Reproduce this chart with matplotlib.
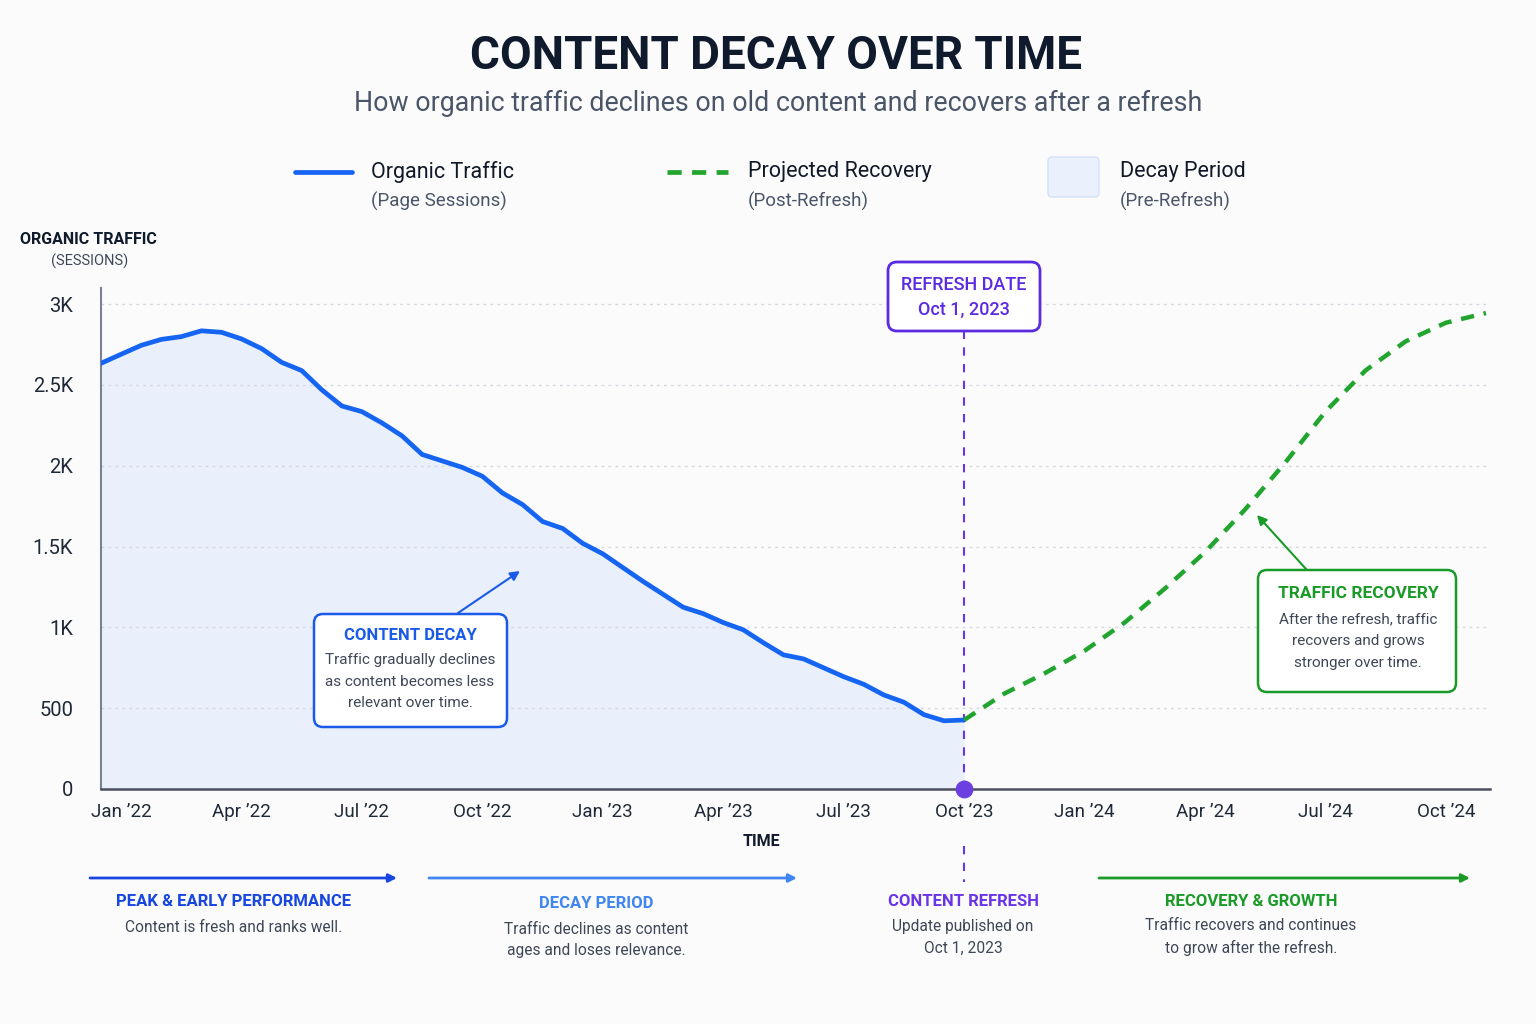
import numpy as np
import matplotlib
matplotlib.use("Agg")
import matplotlib.pyplot as plt
import matplotlib.transforms as mtransforms
from matplotlib import font_manager
from matplotlib.patches import FancyBboxPatch, FancyArrowPatch
from matplotlib.lines import Line2D

# =============================================================================
# DATA
# =============================================================================

# months since Jan 2022 (half-month steps)
DECAY_MONTHS = [-0.5, 0.0, 0.5, 1.0, 1.5, 2.0, 2.5, 3.0, 3.5, 4.0, 4.5, 5.0,
                5.5, 6.0, 6.5, 7.0, 7.5, 8.0, 8.5, 9.0, 9.5, 10.0, 10.5, 11.0,
                11.5, 12.0, 12.5, 13.0, 13.5, 14.0, 14.5, 15.0, 15.5, 16.0,
                16.5, 17.0, 17.5, 18.0, 18.5, 19.0, 19.5, 20.0, 20.5, 21.0]
DECAY_SESSIONS = [2634, 2690, 2745, 2782, 2799, 2835, 2826, 2785, 2725, 2640,
                  2589, 2470, 2370, 2335, 2265, 2185, 2070, 2030, 1990, 1935,
                  1832, 1760, 1655, 1612, 1520, 1455, 1370, 1285, 1205, 1125,
                  1085, 1030, 985, 905, 830, 805, 750, 695, 648, 582, 537,
                  460, 422, 427]

RECOVERY_MONTHS = [21, 22, 23, 24, 25, 26, 27, 28, 29, 30, 31, 32, 33, 34]
RECOVERY_SESSIONS = [427, 590, 715, 855, 1030, 1240, 1465, 1730, 2020, 2335,
                     2590, 2770, 2885, 2945]

REFRESH_MONTH = 21

X_TICKS = [0, 3, 6, 9, 12, 15, 18, 21, 24, 27, 30, 33]
X_LABELS = ["Jan \u201922", "Apr \u201922", "Jul \u201922", "Oct \u201922",
            "Jan \u201923", "Apr \u201923", "Jul \u201923", "Oct \u201923",
            "Jan \u201924", "Apr \u201924", "Jul \u201924", "Oct \u201924"]
Y_TICKS = [0, 500, 1000, 1500, 2000, 2500, 3000]
Y_LABELS = ["0", "500", "1K", "1.5K", "2K", "2.5K", "3K"]

# =============================================================================
# STYLE
# =============================================================================

W, H, DPI = 1536, 1024, 100
BG = "#fbfbfc"
NAVY = "#0f1b2d"
GREY = "#3f4756"
BLUE = "#1565f2"
BLUE_DARK = "#1746e0"
BLUE_LIGHT = "#3f86f0"
GREEN = "#22a52f"
PURPLE = "#5b2be0"

names = {f.name for f in font_manager.fontManager.ttflist}
FONT = "Liberation Sans Narrow" if "Liberation Sans Narrow" in names else "Roboto"
plt.rcParams["font.family"] = [FONT, "DejaVu Sans"]

fig = plt.figure(figsize=(W / DPI, H / DPI), dpi=DPI, facecolor=BG)
# pixel coordinates, origin top-left
PXT = mtransforms.Affine2D().scale(1 / W, -1 / H).translate(0, 1) + fig.transFigure


def ftext(x, y, s, size, color=GREY, weight="normal", ha="center"):
    fig.text(x, y, s, transform=PXT, fontsize=size, color=color,
             fontweight=weight, ha=ha, va="center", zorder=10)


def fbox(x0, y0, x1, y1, edge, lw=1.8):
    fig.add_artist(FancyBboxPatch((x0, y0), x1 - x0, y1 - y0,
                                  boxstyle="round,pad=0,rounding_size=9",
                                  transform=PXT, fc="white", ec=edge, lw=lw,
                                  zorder=5))


def farrow(p0, p1, color, lw=1.5, ms=14):
    fig.add_artist(FancyArrowPatch(p0, p1, transform=PXT, arrowstyle="-|>",
                                   mutation_scale=ms, color=color, lw=lw,
                                   shrinkA=0, shrinkB=0, zorder=6))


# ---- title ------------------------------------------------------------------
ftext(776, 56, "CONTENT DECAY OVER TIME", 33, NAVY, "bold")
ftext(778, 103, "How organic traffic declines on old content and recovers after a refresh",
      19.3, "#4a5568")

# ---- legend -----------------------------------------------------------------
fig.add_artist(Line2D([295, 352], [172, 172], transform=PXT, color=BLUE, lw=3.4,
                      solid_capstyle="round"))
ftext(371, 172, "Organic Traffic", 15.5, "#111827", ha="left")
ftext(371, 201, "(Page Sessions)", 13.5, "#4a5568", ha="left")
fig.add_artist(Line2D([667, 728], [172, 172], transform=PXT, color=GREEN, lw=3.4,
                      ls=(0, (3, 2.2))))
ftext(748, 172, "Projected Recovery", 15.5, "#111827", ha="left")
ftext(748, 201, "(Post-Refresh)", 13.5, "#4a5568", ha="left")
fig.add_artist(FancyBboxPatch((1048, 157), 51, 40,
                              boxstyle="round,pad=0,rounding_size=4",
                              transform=PXT, fc="#eaf1fd", ec="#d3e2fa", lw=1))
ftext(1120, 172, "Decay Period", 15.5, "#111827", ha="left")
ftext(1120, 201, "(Pre-Refresh)", 13.5, "#4a5568", ha="left")

# ---- axis titles ------------------------------------------------------------
ftext(88, 239, "ORGANIC TRAFFIC", 11.5, NAVY, "bold")
ftext(90, 261, "(SESSIONS)", 10.5, GREY)
ftext(761, 842, "TIME", 11.5, NAVY, "bold")

# ---- main chart -------------------------------------------------------------
ax = fig.add_axes([101 / W, 1 - 789 / H, (1490 - 101) / W, (789 - 288) / H])
ax.set_facecolor("none")
ax.set_xlim(-0.5, 34.1)
ax.set_ylim(0, 3100)

for yv in Y_TICKS[1:]:
    ax.axhline(yv, color="#d5d8de", lw=1, ls=(0, (2, 3)), zorder=2)

ax.fill_between(DECAY_MONTHS, DECAY_SESSIONS, 0, color="#e6effd", alpha=0.85,
                lw=0, zorder=1)
ax.plot(DECAY_MONTHS, DECAY_SESSIONS, color=BLUE, lw=3.4, zorder=3,
        solid_joinstyle="round", solid_capstyle="round")
ax.plot(RECOVERY_MONTHS, RECOVERY_SESSIONS, color=GREEN, lw=3.2, ls=(0, (3, 2.2)),
        zorder=3)

# refresh marker: above the axis, then a short stub below the tick labels
ax.plot([REFRESH_MONTH, REFRESH_MONTH], [0, 2835], color="#6a35e6", lw=1.5,
        ls=(0, (4, 4)), clip_on=False, zorder=2)
fig.add_artist(Line2D([963.5, 963.5], [846, 882], transform=PXT, color="#6a35e6",
                      lw=1.5, ls=(0, (4, 4))))
ax.scatter([REFRESH_MONTH], [0], s=140, color="#6b3fe0", zorder=6, clip_on=False)

for side in ("top", "right"):
    ax.spines[side].set_visible(False)
ax.spines["left"].set_color("#7b8190")
ax.spines["left"].set_linewidth(1.5)
ax.spines["bottom"].set_color("#4a5060")
ax.spines["bottom"].set_linewidth(1.8)

ax.set_xticks(X_TICKS, X_LABELS)
ax.set_yticks(Y_TICKS, Y_LABELS)
ax.tick_params(axis="x", length=0, pad=10, labelsize=13.5, labelcolor="#1f2937")
ax.tick_params(axis="y", length=0, pad=20, labelsize=14.5, labelcolor="#1f2937")

# ---- callouts ---------------------------------------------------------------
fbox(888, 262, 1040, 331, PURPLE, 2)
ftext(964, 285, "REFRESH DATE", 13, "#5b2be0", "medium")
ftext(964, 310, "Oct 1, 2023", 13, "#5b2be0", "medium")

fbox(314, 614, 507, 727, "#1a5ae8")
ftext(410, 635, "CONTENT DECAY", 12, "#1a5ae8", "bold")
ftext(410, 660, "Traffic gradually declines", 11, GREY)
ftext(410, 682, "as content becomes less", 11, GREY)
ftext(410, 703, "relevant over time.", 11, GREY)
farrow((458, 613), (520, 571), "#1a5ae8")

fbox(1258, 570, 1456, 692, "#1a9a27")
ftext(1358, 594, "TRAFFIC RECOVERY", 12.5, "#1a9a27", "bold")
ftext(1358, 619, "After the refresh, traffic", 11, GREY)
ftext(1358, 641, "recovers and grows", 11, GREY)
ftext(1358, 663, "stronger over time.", 11, GREY)
farrow((1306, 569), (1257, 515), "#1a9a27")

# ---- phase strip ------------------------------------------------------------
farrow((90, 878), (397, 878), BLUE_DARK, lw=2, ms=12)
ftext(234, 902, "PEAK & EARLY PERFORMANCE", 12, BLUE_DARK, "bold")
ftext(234, 928, "Content is fresh and ranks well.", 11.2, GREY)

farrow((429, 878), (797, 878), BLUE_LIGHT, lw=2, ms=12)
ftext(596, 903, "DECAY PERIOD", 12, BLUE_LIGHT, "bold")
ftext(596, 929, "Traffic declines as content", 11.2, GREY)
ftext(596, 951, "ages and loses relevance.", 11.2, GREY)

ftext(963, 902, "CONTENT REFRESH", 12, "#6a35e6", "bold")
ftext(963, 926, "Update published on", 11.2, GREY)
ftext(963, 948, "Oct 1, 2023", 11.2, GREY)

farrow((1099, 878), (1470, 878), "#1a9a27", lw=2, ms=12)
ftext(1251, 902, "RECOVERY & GROWTH", 12, "#1a9a27", "bold")
ftext(1251, 926, "Traffic recovers and continues", 11.2, GREY)
ftext(1251, 948, "to grow after the refresh.", 11.2, GREY)

fig.savefig("out.png", dpi=DPI, facecolor=BG)
